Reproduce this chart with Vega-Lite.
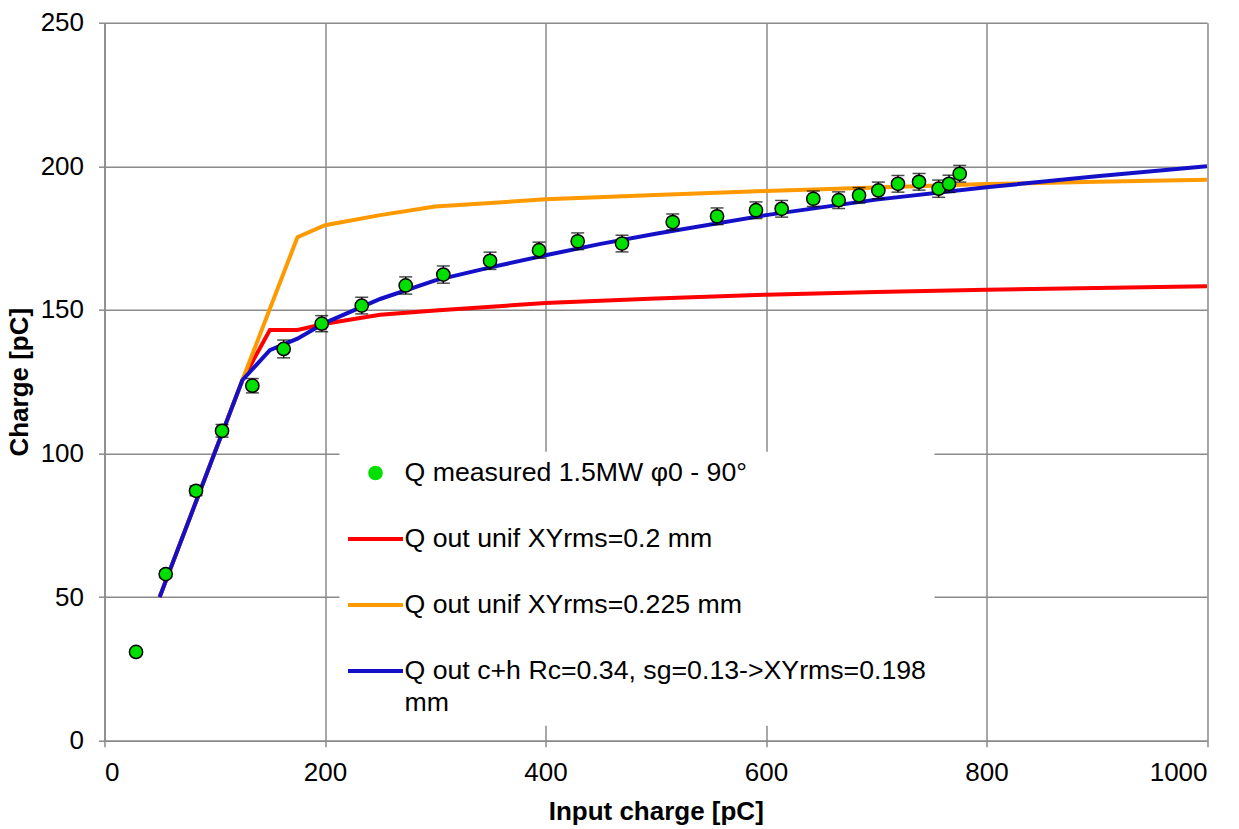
{
  "$schema": "https://vega.github.io/schema/vega-lite/v6.json",
  "autosize": {"type": "none"},
  "width": 1102.5,
  "height": 718,
  "padding": {"left": 104.5, "top": 22.7, "right": 32, "bottom": 88},
  "background": "white",
  "config": {
    "view": {"stroke": null},
    "font": "Liberation Sans",
    "axis": {
      "domainColor": "#8a8a8a",
      "domainWidth": 1.5,
      "gridColor": "#8a8a8a",
      "gridWidth": 1.5,
      "gridOpacity": 1,
      "tickColor": "#8a8a8a",
      "tickWidth": 1.5,
      "tickSize": 6,
      "labelFont": "Liberation Sans",
      "labelFontSize": 26,
      "labelColor": "black",
      "titleFont": "Liberation Sans",
      "titleFontSize": 26,
      "titleFontWeight": "bold",
      "titleColor": "black"
    },
    "legend": {
      "title": null,
      "orient": "none",
      "legendX": 235,
      "legendY": 429,
      "fillColor": "white",
      "padding": 8,
      "symbolSize": 3025,
      "symbolType": "stroke",
      "symbolStrokeWidth": 4,
      "labelFont": "Liberation Sans",
      "labelFontSize": 26.7,
      "labelColor": "black",
      "labelLimit": 0,
      "labelOffset": 2,
      "rowPadding": 38
    }
  },
  "data": {
    "values": [
      {"series": "Q out unif XYrms=0.2 mm", "x": 50, "y": 50},
      {"series": "Q out unif XYrms=0.2 mm", "x": 125, "y": 125.5},
      {"series": "Q out unif XYrms=0.2 mm", "x": 150, "y": 143},
      {"series": "Q out unif XYrms=0.2 mm", "x": 175, "y": 143},
      {"series": "Q out unif XYrms=0.2 mm", "x": 200, "y": 145.2},
      {"series": "Q out unif XYrms=0.2 mm", "x": 250, "y": 148.3},
      {"series": "Q out unif XYrms=0.2 mm", "x": 300, "y": 149.8},
      {"series": "Q out unif XYrms=0.2 mm", "x": 400, "y": 152.4},
      {"series": "Q out unif XYrms=0.2 mm", "x": 500, "y": 154},
      {"series": "Q out unif XYrms=0.2 mm", "x": 600, "y": 155.3},
      {"series": "Q out unif XYrms=0.2 mm", "x": 700, "y": 156.2},
      {"series": "Q out unif XYrms=0.2 mm", "x": 800, "y": 157},
      {"series": "Q out unif XYrms=0.2 mm", "x": 900, "y": 157.6},
      {"series": "Q out unif XYrms=0.2 mm", "x": 1000, "y": 158.2},

      {"series": "Q out unif XYrms=0.225 mm", "x": 50, "y": 50},
      {"series": "Q out unif XYrms=0.225 mm", "x": 125, "y": 125.5},
      {"series": "Q out unif XYrms=0.225 mm", "x": 175, "y": 175.3},
      {"series": "Q out unif XYrms=0.225 mm", "x": 200, "y": 179.5},
      {"series": "Q out unif XYrms=0.225 mm", "x": 250, "y": 183},
      {"series": "Q out unif XYrms=0.225 mm", "x": 300, "y": 186},
      {"series": "Q out unif XYrms=0.225 mm", "x": 400, "y": 188.5},
      {"series": "Q out unif XYrms=0.225 mm", "x": 500, "y": 190},
      {"series": "Q out unif XYrms=0.225 mm", "x": 600, "y": 191.4},
      {"series": "Q out unif XYrms=0.225 mm", "x": 700, "y": 192.6},
      {"series": "Q out unif XYrms=0.225 mm", "x": 800, "y": 193.8},
      {"series": "Q out unif XYrms=0.225 mm", "x": 900, "y": 194.6},
      {"series": "Q out unif XYrms=0.225 mm", "x": 1000, "y": 195.3},

      {"series": "Q out c+h Rc=0.34, sg=0.13->XYrms=0.198 mm", "x": 50, "y": 50},
      {"series": "Q out c+h Rc=0.34, sg=0.13->XYrms=0.198 mm", "x": 125, "y": 125.5},
      {"series": "Q out c+h Rc=0.34, sg=0.13->XYrms=0.198 mm", "x": 150, "y": 136},
      {"series": "Q out c+h Rc=0.34, sg=0.13->XYrms=0.198 mm", "x": 175, "y": 140},
      {"series": "Q out c+h Rc=0.34, sg=0.13->XYrms=0.198 mm", "x": 200, "y": 145.5},
      {"series": "Q out c+h Rc=0.34, sg=0.13->XYrms=0.198 mm", "x": 250, "y": 153.8},
      {"series": "Q out c+h Rc=0.34, sg=0.13->XYrms=0.198 mm", "x": 300, "y": 160.3},
      {"series": "Q out c+h Rc=0.34, sg=0.13->XYrms=0.198 mm", "x": 350, "y": 164.8},
      {"series": "Q out c+h Rc=0.34, sg=0.13->XYrms=0.198 mm", "x": 400, "y": 169},
      {"series": "Q out c+h Rc=0.34, sg=0.13->XYrms=0.198 mm", "x": 450, "y": 173},
      {"series": "Q out c+h Rc=0.34, sg=0.13->XYrms=0.198 mm", "x": 500, "y": 176.5},
      {"series": "Q out c+h Rc=0.34, sg=0.13->XYrms=0.198 mm", "x": 600, "y": 183},
      {"series": "Q out c+h Rc=0.34, sg=0.13->XYrms=0.198 mm", "x": 700, "y": 188.4},
      {"series": "Q out c+h Rc=0.34, sg=0.13->XYrms=0.198 mm", "x": 800, "y": 192.7},
      {"series": "Q out c+h Rc=0.34, sg=0.13->XYrms=0.198 mm", "x": 900, "y": 196.5},
      {"series": "Q out c+h Rc=0.34, sg=0.13->XYrms=0.198 mm", "x": 1000, "y": 200},

      {"series": "Q measured 1.5MW φ0 - 90°", "x": 28.6, "y": 30.9, "lo": 30.3, "hi": 31.5},
      {"series": "Q measured 1.5MW φ0 - 90°", "x": 55.5, "y": 58.0, "lo": 56.8, "hi": 59.2},
      {"series": "Q measured 1.5MW φ0 - 90°", "x": 83.0, "y": 87.0, "lo": 85.3, "hi": 88.7},
      {"series": "Q measured 1.5MW φ0 - 90°", "x": 106.6, "y": 107.9, "lo": 105.7, "hi": 110.1},
      {"series": "Q measured 1.5MW φ0 - 90°", "x": 134.1, "y": 123.6, "lo": 121.1, "hi": 126.1},
      {"series": "Q measured 1.5MW φ0 - 90°", "x": 162.5, "y": 136.4, "lo": 133.3, "hi": 139.5},
      {"series": "Q measured 1.5MW φ0 - 90°", "x": 197.0, "y": 145.2, "lo": 142.4, "hi": 148.0},
      {"series": "Q measured 1.5MW φ0 - 90°", "x": 233.3, "y": 151.5, "lo": 148.6, "hi": 154.4},
      {"series": "Q measured 1.5MW φ0 - 90°", "x": 273.2, "y": 158.5, "lo": 155.5, "hi": 161.5},
      {"series": "Q measured 1.5MW φ0 - 90°", "x": 307.3, "y": 162.3, "lo": 159.3, "hi": 165.3},
      {"series": "Q measured 1.5MW φ0 - 90°", "x": 349.7, "y": 167.1, "lo": 164.1, "hi": 170.1},
      {"series": "Q measured 1.5MW φ0 - 90°", "x": 394.1, "y": 170.8, "lo": 168.0, "hi": 173.6},
      {"series": "Q measured 1.5MW φ0 - 90°", "x": 429.2, "y": 173.9, "lo": 171.0, "hi": 176.8},
      {"series": "Q measured 1.5MW φ0 - 90°", "x": 469.4, "y": 173.1, "lo": 170.2, "hi": 176.0},
      {"series": "Q measured 1.5MW φ0 - 90°", "x": 515.4, "y": 180.6, "lo": 177.8, "hi": 183.4},
      {"series": "Q measured 1.5MW φ0 - 90°", "x": 555.6, "y": 182.6, "lo": 179.7, "hi": 185.5},
      {"series": "Q measured 1.5MW φ0 - 90°", "x": 590.9, "y": 184.7, "lo": 181.8, "hi": 187.6},
      {"series": "Q measured 1.5MW φ0 - 90°", "x": 614.2, "y": 185.2, "lo": 182.3, "hi": 188.1},
      {"series": "Q measured 1.5MW φ0 - 90°", "x": 642.9, "y": 188.7, "lo": 186.0, "hi": 191.4},
      {"series": "Q measured 1.5MW φ0 - 90°", "x": 665.9, "y": 188.2, "lo": 185.3, "hi": 191.1},
      {"series": "Q measured 1.5MW φ0 - 90°", "x": 684.4, "y": 189.9, "lo": 187.2, "hi": 192.6},
      {"series": "Q measured 1.5MW φ0 - 90°", "x": 701.9, "y": 191.6, "lo": 188.7, "hi": 194.5},
      {"series": "Q measured 1.5MW φ0 - 90°", "x": 719.7, "y": 193.9, "lo": 191.0, "hi": 196.8},
      {"series": "Q measured 1.5MW φ0 - 90°", "x": 738.8, "y": 194.6, "lo": 191.7, "hi": 197.5},
      {"series": "Q measured 1.5MW φ0 - 90°", "x": 756.6, "y": 192.2, "lo": 189.2, "hi": 195.2},
      {"series": "Q measured 1.5MW φ0 - 90°", "x": 766.0, "y": 193.9, "lo": 190.9, "hi": 196.9},
      {"series": "Q measured 1.5MW φ0 - 90°", "x": 775.7, "y": 197.4, "lo": 194.5, "hi": 200.3}
    ]
  },
  "encoding": {
    "x": {
      "field": "x",
      "type": "quantitative",
      "scale": {"domain": [0, 1000], "nice": false},
      "axis": {
        "title": "Input charge [pC]",
        "values": [0, 200, 400, 600, 800, 1000],
        "format": "d",
        "labelPadding": 13,
        "titlePadding": 13
      }
    },
    "y": {
      "field": "y",
      "type": "quantitative",
      "scale": {"domain": [0, 250], "nice": false},
      "axis": {
        "title": "Charge [pC]",
        "values": [0, 50, 100, 150, 200, 250],
        "format": "d",
        "labelPadding": 15,
        "titlePadding": 8
      }
    }
  },
  "layer": [
    {
      "transform": [{"filter": "datum.series != 'Q measured 1.5MW φ0 - 90°'"}],
      "mark": {"type": "line", "strokeWidth": 4, "strokeJoin": "miter", "clip": true},
      "encoding": {
        "color": {
          "field": "series",
          "type": "nominal",
          "sort": null,
          "scale": {
            "domain": [
              "Q measured 1.5MW φ0 - 90°",
              "Q out unif XYrms=0.2 mm",
              "Q out unif XYrms=0.225 mm",
              "Q out c+h Rc=0.34, sg=0.13->XYrms=0.198 mm"
            ],
            "range": ["#00e000", "#ff0000", "#ff9900", "#1410c8"]
          },
          "legend": {
            "labelExpr": "datum.label == 'Q out c+h Rc=0.34, sg=0.13->XYrms=0.198 mm' ? ['Q out c+h Rc=0.34, sg=0.13->XYrms=0.198', 'mm'] : datum.label",
            "encode": {
              "symbols": {
                "update": {
                  "x": {"value": 28},
                  "shape": {"signal": "datum.value == 'Q measured 1.5MW φ0 - 90°' ? 'circle' : 'stroke'"},
                  "size": {"signal": "datum.value == 'Q measured 1.5MW φ0 - 90°' ? 170 : 3025"},
                  "fill": {"signal": "datum.value == 'Q measured 1.5MW φ0 - 90°' ? '#00e000' : 'transparent'"},
                  "stroke": {"signal": "datum.value == 'Q measured 1.5MW φ0 - 90°' ? '#000000' : scale('color', datum.value)"},
                  "strokeWidth": {"signal": "datum.value == 'Q measured 1.5MW φ0 - 90°' ? 1.6 : 4"},
                  "opacity": {"value": 1}
                }
              },
              "labels": {
                "update": {
                  "x": {"value": 57},
                  "lineHeight": {"value": 32}
                }
              }
            }
          }
        },
        "order": {"field": "x", "type": "quantitative"}
      }
    },
    {
      "transform": [{"filter": "datum.series == 'Q measured 1.5MW φ0 - 90°'"}],
      "mark": {"type": "rule", "color": "black", "strokeWidth": 1.5},
      "encoding": {
        "y": {"field": "lo", "type": "quantitative"},
        "y2": {"field": "hi"}
      }
    },
    {
      "transform": [{"filter": "datum.series == 'Q measured 1.5MW φ0 - 90°'"}],
      "mark": {"type": "tick", "orient": "horizontal", "color": "black", "size": 13, "thickness": 1.5},
      "encoding": {
        "y": {"field": "lo", "type": "quantitative"}
      }
    },
    {
      "transform": [{"filter": "datum.series == 'Q measured 1.5MW φ0 - 90°'"}],
      "mark": {"type": "tick", "orient": "horizontal", "color": "black", "size": 13, "thickness": 1.5},
      "encoding": {
        "y": {"field": "hi", "type": "quantitative"}
      }
    },
    {
      "transform": [{"filter": "datum.series == 'Q measured 1.5MW φ0 - 90°'"}],
      "mark": {"type": "point", "filled": true, "stroke": "black", "strokeWidth": 1.5, "size": 175, "opacity": 1},
      "encoding": {
        "color": {
          "field": "series",
          "type": "nominal",
          "legend": {
            "labelExpr": "datum.label == 'Q out c+h Rc=0.34, sg=0.13->XYrms=0.198 mm' ? ['Q out c+h Rc=0.34, sg=0.13->XYrms=0.198', 'mm'] : datum.label",
            "encode": {
              "symbols": {
                "update": {
                  "x": {"value": 28},
                  "shape": {"signal": "datum.value == 'Q measured 1.5MW φ0 - 90°' ? 'circle' : 'stroke'"},
                  "size": {"signal": "datum.value == 'Q measured 1.5MW φ0 - 90°' ? 170 : 3025"},
                  "fill": {"signal": "datum.value == 'Q measured 1.5MW φ0 - 90°' ? '#00e000' : 'transparent'"},
                  "stroke": {"signal": "datum.value == 'Q measured 1.5MW φ0 - 90°' ? '#000000' : scale('color', datum.value)"},
                  "strokeWidth": {"signal": "datum.value == 'Q measured 1.5MW φ0 - 90°' ? 1.6 : 4"},
                  "opacity": {"value": 1}
                }
              },
              "labels": {
                "update": {
                  "x": {"value": 57},
                  "lineHeight": {"value": 32}
                }
              }
            }
          }
        }
      }
    }
  ]
}
